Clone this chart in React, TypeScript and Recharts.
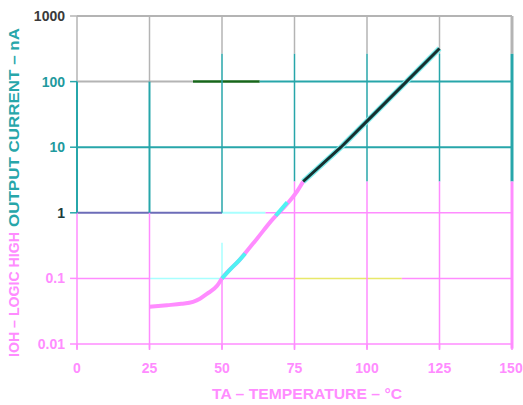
import React from 'react';
import { LineChart, Line, XAxis, YAxis, ReferenceLine } from 'recharts';

// x axis: ambient temperature, y axis: output current (log)
const xTicks = [0, 25, 50, 75, 100, 125, 150];
const yTicks = [0.01, 0.1, 1, 10, 100, 1000];
const yTickLabels = ['0.01', '0.1', '1', '10', '100', '1000'];

// low-temperature part of the curve (pink)
const tempLow = [25, 31, 36, 40, 42.4, 44.8, 48.3, 50, 56, 62, 67.5, 72.5, 76, 78];
const currentLow = [0.037, 0.039, 0.041, 0.044, 0.049, 0.058, 0.077, 0.1, 0.19, 0.4, 0.8, 1.37, 2.16, 3.0];

// cyan pieces that show over the pink curve
const tempCyanA = [50, 53, 56, 58];
const currentCyanA = [0.1, 0.14, 0.19, 0.24];
const tempCyanB = [68.5, 72.5];
const currentCyanB = [0.9, 1.45];

// high-temperature part (dark)
const tempHigh = [78, 91, 100, 113.6, 125];
const currentHigh = [3.0, 10, 25, 100, 320];

const zip = (t: number[], v: number[]) => t.map((x, i) => ({ t: x, v: v[i] }));

const GRAY = '#b4b4b4';
const TEAL = '#27a6aa';
const PINK = '#ff8cff';
const DARKBLUE = '#6c6cb8';
const GREEN = '#17661a';
const LIGHTCYAN = '#a8ffff';
const YELLOW = '#e8e86a';

const FONT = '"Liberation Sans", Arial, sans-serif';

type Seg = [number, number, number, number, string, number];
// [x1, y1, x2, y2, colour, width]
const grid: Seg[] = [
  // horizontals
  [0, 1000, 150, 1000, GRAY, 2],
  [0, 100, 40, 100, GRAY, 2],
  [40, 100, 63, 100, GREEN, 2.5],
  [63, 100, 150, 100, TEAL, 2],
  [0, 10, 150, 10, TEAL, 2],
  [0, 1, 50, 1, DARKBLUE, 2],
  [50, 1, 65, 1, LIGHTCYAN, 2],
  [65, 1, 150, 1, PINK, 1.5],
  [0, 0.1, 25, 0.1, PINK, 1.5],
  [25, 0.1, 50, 0.1, LIGHTCYAN, 1.5],
  [50, 0.1, 75, 0.1, PINK, 1.5],
  [75, 0.1, 112, 0.1, YELLOW, 1.5],
  [112, 0.1, 150, 0.1, PINK, 1.5],
  [0, 0.01, 150, 0.01, PINK, 1.5],
  // verticals
  [0, 1000, 0, 100, GRAY, 1.5],
  [0, 100, 0, 1, TEAL, 2],
  [0, 1, 0, 0.0085, PINK, 1.5],
  [25, 1000, 25, 100, GRAY, 1.5],
  [25, 100, 25, 1, TEAL, 2],
  [25, 1, 25, 0.0085, PINK, 1.5],
  [50, 1000, 50, 265, GRAY, 1.5],
  [50, 265, 50, 1, TEAL, 1.5],
  [50, 0.35, 50, 0.1, LIGHTCYAN, 1.5],
  [50, 0.1, 50, 0.0085, PINK, 1.5],
  [75, 1000, 75, 265, GRAY, 1.5],
  [75, 265, 75, 3, TEAL, 1.5],
  [75, 3, 75, 0.0085, PINK, 1.5],
  [100, 1000, 100, 265, GRAY, 1.5],
  [100, 265, 100, 3, TEAL, 1.5],
  [100, 3, 100, 0.0085, PINK, 1.5],
  [125, 1000, 125, 265, GRAY, 1.5],
  [125, 265, 125, 3, TEAL, 1.5],
  [125, 3, 125, 0.0085, PINK, 1.5],
  [150, 1000, 150, 265, GRAY, 3],
  [150, 265, 150, 3, TEAL, 3],
  [150, 3, 150, 0.0085, PINK, 3],
];

const yTickColor = (v: number) => {
  if (v >= 1000) return '#3a3a3a';
  if (v >= 10) return '#1f9a9e';
  if (v >= 1) return '#1c3c3c';
  return PINK;
};

const YTick = (props: any) => {
  const { x, y, payload } = props;
  const i = yTicks.indexOf(payload.value);
  return (
    <text x={x} y={y} dy={5} textAnchor="end" fill={yTickColor(payload.value)}
      fontFamily={FONT} fontWeight="bold" fontSize={14}>
      {yTickLabels[i]}
    </text>
  );
};

const XTick = (props: any) => {
  const { x, y, payload } = props;
  return (
    <text x={x} y={y} dy={12.7} textAnchor="middle" fill={PINK}
      fontFamily={FONT} fontWeight="bold" fontSize={14}>
      {payload.value}
    </text>
  );
};

const YLabel = () => (
  <g fontFamily={FONT} fontWeight="bold" fontSize={14}>
    <text x={19} y={357} transform="rotate(-90, 19, 357)" textAnchor="start"
      fill={PINK} textLength={125} lengthAdjust="spacingAndGlyphs">
      IOH – LOGIC HIGH
    </text>
    <text x={19} y={227} transform="rotate(-90, 19, 227)" textAnchor="start"
      fill={TEAL} textLength={199} lengthAdjust="spacingAndGlyphs">
      OUTPUT CURRENT – nA
    </text>
  </g>
);

const XLabel = () => (
  <text x={212} y={399} textAnchor="start" fill={PINK} textLength={190}
    lengthAdjust="spacingAndGlyphs" fontFamily={FONT} fontWeight="bold" fontSize={15}>
    TA – TEMPERATURE – °C
  </text>
);

export default function App() {
  return (
    <div style={{ position: 'absolute', left: 0, top: 0, background: '#fff' }}>
      <LineChart width={523} height={405} margin={{ top: 16, right: 11, bottom: 21, left: 0 }}>
        <XAxis type="number" dataKey="t" domain={[0, 150]} ticks={xTicks}
          height={40} axisLine={false} tickLine={{ stroke: PINK, strokeWidth: 1.5 }}
          tickSize={6} tickMargin={10} tick={<XTick />} label={<XLabel />} allowDataOverflow />
        <YAxis type="number" scale="log" domain={[0.01, 1000]} ticks={yTicks}
          width={77} axisLine={false} tickLine={false}
          tickSize={7} tickMargin={5} tick={<YTick />} label={<YLabel />} allowDataOverflow />
        {grid.map(([x1, y1, x2, y2, c, w], i) => (
          <ReferenceLine key={i} segment={[{ x: x1, y: y1 }, { x: x2, y: y2 }]}
            stroke={c} strokeWidth={w} ifOverflow="visible" />
        ))}
        {yTicks.map((v) => (
          <ReferenceLine key={'yt' + v} segment={[{ x: -2.4, y: v }, { x: 0, y: v }]}
            stroke={v < 1 ? PINK : v >= 1000 ? GRAY : TEAL} strokeWidth={1.5} ifOverflow="visible" />
        ))}
        <Line data={zip(tempLow, currentLow)} dataKey="v" type="monotone" stroke={PINK}
          strokeWidth={4} dot={false} isAnimationActive={false} />
        <Line data={zip(tempCyanA, currentCyanA)} dataKey="v" type="monotone" stroke="#4ff2f2"
          strokeWidth={4} dot={false} isAnimationActive={false} />
        <Line data={zip(tempCyanB, currentCyanB)} dataKey="v" type="monotone" stroke="#4ff2f2"
          strokeWidth={4} dot={false} isAnimationActive={false} />
        <Line data={zip(tempHigh, currentHigh)} dataKey="v" type="linear" stroke="#7cecec"
          strokeWidth={5.5} dot={false} isAnimationActive={false} />
        <Line data={zip(tempHigh, currentHigh)} dataKey="v" type="linear" stroke="#163030"
          strokeWidth={3} dot={false} isAnimationActive={false} />
      </LineChart>
    </div>
  );
}
